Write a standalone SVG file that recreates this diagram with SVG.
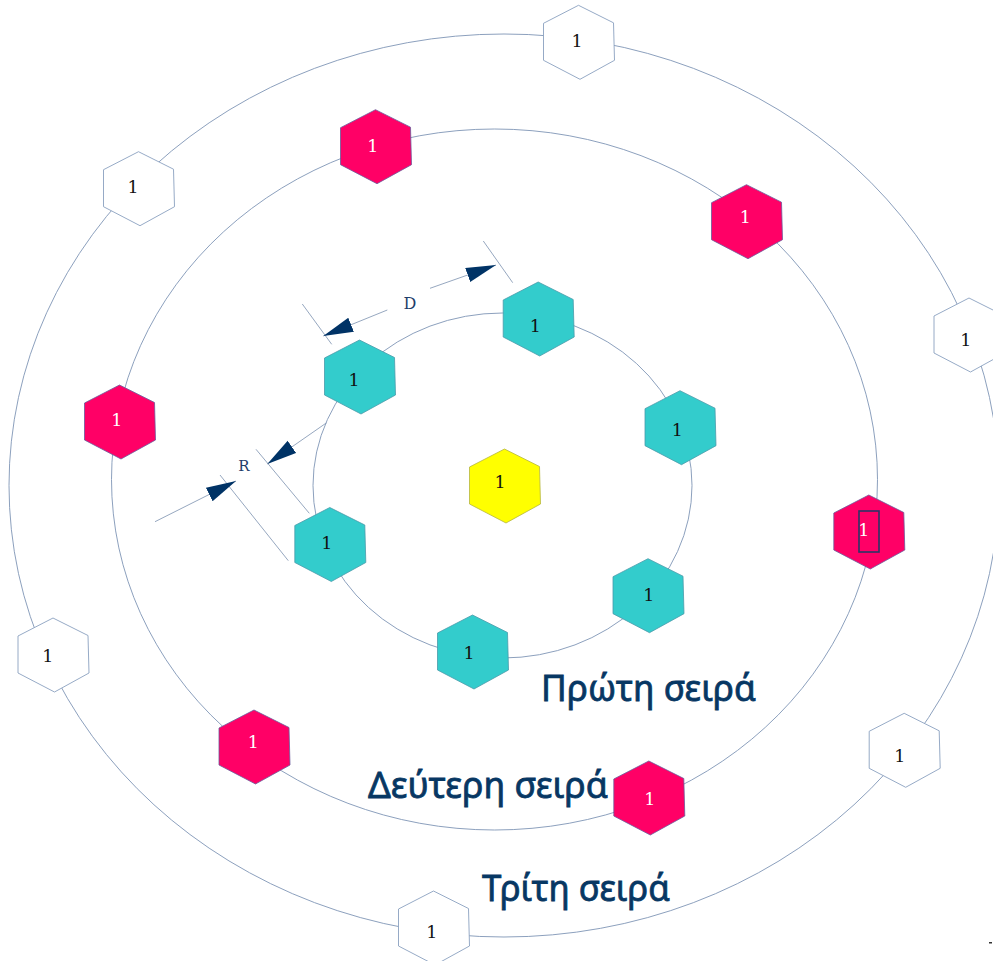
<svg xmlns="http://www.w3.org/2000/svg" xmlns:xlink="http://www.w3.org/1999/xlink" width="993" height="961" viewBox="0 0 993 961">
<style>
.ring{fill:none;stroke:#7f95b5;stroke-width:0.9}
.ext{stroke:#8a9db8;stroke-width:0.9}
.dim{stroke:#8a9db8;stroke-width:0.9;marker-end:url(#arr)}
.hw{fill:#ffffff;stroke:#8aa0c0;stroke-width:0.9}
.hr{fill:#ff0066;stroke:#6a5a9a;stroke-width:0.8}
.hc{fill:#33cccc;stroke:#4a9aaa;stroke-width:0.8}
.hy{fill:#ffff00;stroke:#b5b540;stroke-width:0.8}
.n{font-family:"DejaVu Serif","Liberation Serif",serif;font-size:17.5px;text-anchor:middle;fill:#111}
.nw{font-family:"DejaVu Serif","Liberation Serif",serif;font-size:17.5px;text-anchor:middle;fill:#ffffff}
.dl{font-family:"DejaVu Serif","Liberation Serif",serif;fill:#1f3d6b;text-anchor:middle}
.lab{font-family:"Noto Sans","DejaVu Sans",sans-serif;font-size:37px;fill:#073763;stroke:#073763;stroke-width:0.8}
</style>
<defs>
<polygon id="hex" points="-0.5,-37 34.5,-19.5 35.5,18 1,37 -35.5,18 -35.5,-19"/>
<marker id="arr" markerUnits="userSpaceOnUse" viewBox="0 0 31 16" markerWidth="31" markerHeight="16" refX="30" refY="7.5" orient="auto">
<path d="M0,0 L30,7.5 L0,15 Z" fill="#003366"/>
</marker>
</defs>
<rect width="993" height="961" fill="#ffffff"/>
<g id="rings">
<ellipse class="ring" cx="502.5" cy="485.5" rx="189.5" ry="172.5"/>
<ellipse class="ring" cx="494.5" cy="479.5" rx="383" ry="350.5"/>
<ellipse class="ring" cx="504" cy="485.5" rx="495" ry="451.5"/>
</g>
<g id="connectors">
<line class="ext" x1="483.3" y1="241" x2="512.7" y2="282.7"/>
<line class="ext" x1="302.3" y1="304" x2="331.7" y2="344.3"/>
<line class="ext" x1="256" y1="449.3" x2="309.3" y2="513.3"/>
<line class="ext" x1="220" y1="475" x2="288.3" y2="560.7"/>
<line class="dim" x1="387.3" y1="310" x2="323.3" y2="336"/>
<line class="dim" x1="430" y1="288.3" x2="496" y2="265"/>
<line class="dim" x1="326.7" y1="422.7" x2="267.3" y2="464"/>
<line class="dim" x1="155" y1="521.7" x2="236" y2="481"/>
<text class="dl" x="410" y="309" font-size="16">D</text>
<text class="dl" x="244" y="471" font-size="15">R</text>
</g>
<g id="w1"><use href="#hex" class="hw" x="579" y="42.3"/><text class="n" x="577" y="46.5">1</text></g>
<g id="w2"><use href="#hex" class="hw" x="139" y="188.7"/><text class="n" x="133" y="192.5">1</text></g>
<g id="w3"><use href="#hex" class="hw" x="969.5" y="335"/><text class="n" x="965.7" y="345.5">1</text></g>
<g id="w4"><use href="#hex" class="hw" x="53.5" y="655"/><text class="n" x="47.7" y="662">1</text></g>
<g id="w5"><use href="#hex" class="hw" x="904.7" y="750.3"/><text class="n" x="899.7" y="761.5">1</text></g>
<g id="w6"><use href="#hex" class="hw" x="434" y="928"/><text class="n" x="431.7" y="937.5">1</text></g>
<g id="r1"><use href="#hex" class="hr" x="376" y="146.7"/><text class="nw" x="372.7" y="151.5">1</text></g>
<g id="r2"><use href="#hex" class="hr" x="747" y="221.7"/><text class="nw" x="745.3" y="223">1</text></g>
<g id="r3"><use href="#hex" class="hr" x="120" y="422"/><text class="nw" x="116.7" y="425.8">1</text></g>
<g id="r4"><use href="#hex" class="hr" x="869.3" y="532"/><text class="nw" x="863.7" y="535.8">1</text><rect x="859" y="511" width="20" height="41" fill="none" stroke="#2b3566" stroke-width="1.6"/></g>
<g id="r5"><use href="#hex" class="hr" x="649.3" y="798"/><text class="nw" x="649.7" y="804.8">1</text></g>
<g id="r6"><use href="#hex" class="hr" x="254.5" y="747"/><text class="nw" x="253.3" y="747.5">1</text></g>
<g id="c1"><use href="#hex" class="hc" x="538.7" y="319"/><text class="n" x="535.3" y="331.5">1</text></g>
<g id="c2"><use href="#hex" class="hc" x="680.5" y="427.7"/><text class="n" x="677.3" y="435.5">1</text></g>
<g id="c3"><use href="#hex" class="hc" x="648.5" y="595.7"/><text class="n" x="648.7" y="600.5">1</text></g>
<g id="c4"><use href="#hex" class="hc" x="473" y="652"/><text class="n" x="469" y="658.8">1</text></g>
<g id="c5"><use href="#hex" class="hc" x="330.3" y="544.5"/><text class="n" x="326.7" y="549.2">1</text></g>
<g id="c6"><use href="#hex" class="hc" x="360" y="377"/><text class="n" x="354" y="385.8">1</text></g>
<g id="center"><use href="#hex" class="hy" x="505" y="486"/><text class="n" x="500" y="488.2">1</text></g>
<g id="labels">
<text class="lab" x="541" y="701" textLength="215" lengthAdjust="spacingAndGlyphs">Πρώτη σειρά</text>
<text class="lab" x="368" y="798" textLength="240" lengthAdjust="spacingAndGlyphs">Δεύτερη σειρά</text>
<text class="lab" x="482" y="901" textLength="188" lengthAdjust="spacingAndGlyphs">Τρίτη σειρά</text>
</g>
<rect x="989" y="942" width="3" height="1.5" fill="#333333"/>
</svg>
